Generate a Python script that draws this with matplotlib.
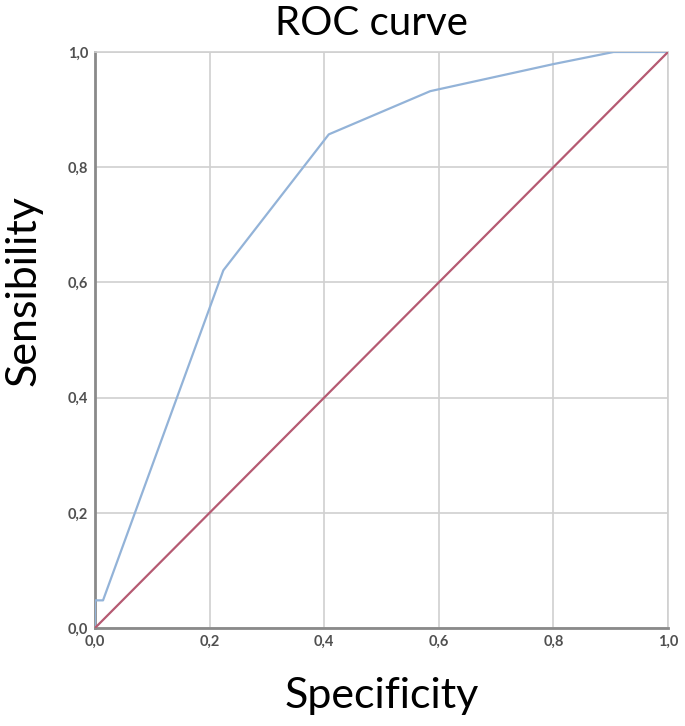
import matplotlib
matplotlib.use("Agg")
import matplotlib.pyplot as plt
from matplotlib.ticker import FuncFormatter

# --- ROC curve points (1 - specificity, sensitivity) ---
fpr = [0.0, 0.0, 0.014, 0.224, 0.408, 0.585, 0.800, 0.905, 1.0]
tpr = [0.0, 0.048, 0.048, 0.621, 0.857, 0.932, 0.979, 1.0, 1.0]

# reference diagonal
diag_x = [0.0, 1.0]
diag_y = [0.0, 1.0]

ticks = [0.0, 0.2, 0.4, 0.6, 0.8, 1.0]

plt.rcParams['font.family'] = ['Lato', 'DejaVu Sans']

fig = plt.figure(figsize=(6.85, 7.26), dpi=100)
ax = fig.add_axes([95 / 685, 1 - 628 / 726, 573 / 685, 576 / 726])

ax.plot(fpr, tpr, color='#93b3d8', lw=1.6, zorder=3)
ax.plot(diag_x, diag_y, color='#b55a72', lw=1.6, zorder=3)

ax.set_xlim(0, 1)
ax.set_ylim(0, 1)
ax.set_xticks(ticks)
ax.set_yticks(ticks)
fmt = FuncFormatter(lambda v, p: f"{v:.1f}".replace('.', ','))
ax.xaxis.set_major_formatter(fmt)
ax.yaxis.set_major_formatter(fmt)
ax.tick_params(length=0, labelsize=10.5, labelcolor='#505050', pad=5)
for lab in ax.get_xticklabels() + ax.get_yticklabels():
    lab.set_fontweight('bold')

ax.grid(True, color='#d0d0d0', lw=1.2)
ax.set_axisbelow(True)
for side in ['top', 'right']:
    ax.spines[side].set_color('#d0d0d0')
    ax.spines[side].set_linewidth(1.2)
for side in ['left', 'bottom']:
    ax.spines[side].set_color('#8a8a8a')
    ax.spines[side].set_linewidth(2)

ax.set_title("ROC curve", fontsize=29, x=0.482, pad=12)
ax.set_xlabel("Specificity", fontsize=31, labelpad=20)
ax.set_ylabel("Sensibility", fontsize=31, va='center', ha='center')
ax.yaxis.set_label_coords(-0.125, 0.585)

fig.savefig("out.png", dpi=100)
